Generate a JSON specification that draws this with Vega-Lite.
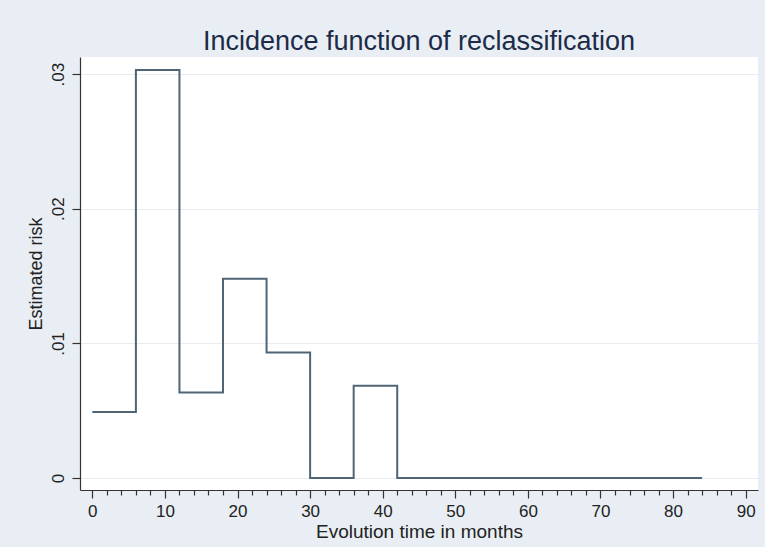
{
  "$schema": "https://vega.github.io/schema/vega-lite/v6.json",
  "width": 678,
  "height": 433,
  "autosize": {"type": "none"},
  "padding": {"left": 80, "top": 57, "right": 7, "bottom": 57},
  "background": "#e8eef3",
  "config": {
    "view": {"fill": "white", "stroke": null},
    "font": "Liberation Sans"
  },
  "title": {
    "text": "Incidence function of reclassification",
    "fontSize": 27,
    "fontWeight": "normal",
    "color": "#1c2b48",
    "font": "Liberation Sans",
    "offset": 1,
    "anchor": "middle"
  },
  "data": {
    "values": [
      {"month": 0, "risk": 0.0049},
      {"month": 6, "risk": 0.0303},
      {"month": 12, "risk": 0.00635},
      {"month": 18, "risk": 0.0148},
      {"month": 24, "risk": 0.00933},
      {"month": 30, "risk": 0},
      {"month": 36, "risk": 0.00685},
      {"month": 42, "risk": 0},
      {"month": 84, "risk": 0}
    ]
  },
  "mark": {"type": "line", "interpolate": "step-after", "color": "#4f6576", "strokeWidth": 2},
  "encoding": {
    "x": {
      "field": "month",
      "type": "quantitative",
      "scale": {"domain": [-1.7, 91.7], "nice": false, "zero": false},
      "axis": {
        "title": "Evolution time in months",
        "titleFontSize": 19,
        "titleFontWeight": "normal",
        "titleColor": "#222222",
        "titlePadding": 3,
        "values": [0,2,4,6,8,10,12,14,16,18,20,22,24,26,28,30,32,34,36,38,40,42,44,46,48,50,52,54,56,58,60,62,64,66,68,70,72,74,76,78,80,82,84,86,88,90],
        "labelExpr": "datum.value % 10 === 0 ? datum.label : ''",
        "labelOverlap": false,
        "labelFlush": false,
        "labelFontSize": 17,
        "labelColor": "#222222",
        "labelPadding": 5,
        "tickSize": {"condition": {"test": "datum.value % 10 === 0", "value": 8}, "value": 5},
        "tickColor": "#333333",
        "tickWidth": 1.2,
        "domainColor": "#333333",
        "domainWidth": 1.2,
        "grid": false
      }
    },
    "y": {
      "field": "risk",
      "type": "quantitative",
      "scale": {"domain": [-0.00089, 0.03127], "nice": false, "zero": false},
      "axis": {
        "title": "Estimated risk",
        "titleFontSize": 18,
        "titleFontWeight": "normal",
        "titleColor": "#222222",
        "titlePadding": 4,
        "values": [0, 0.01, 0.02, 0.03],
        "labelExpr": "datum.value == 0 ? '0' : replace(format(datum.value, '.2f'), '0.', '.')",
        "labelAngle": -90,
        "labelAlign": "center",
        "labelBaseline": "bottom",
        "labelFontSize": 17,
        "labelColor": "#222222",
        "labelPadding": 5,
        "tickSize": 8,
        "tickColor": "#333333",
        "tickWidth": 1.2,
        "domainColor": "#333333",
        "domainWidth": 1.2,
        "grid": true,
        "gridColor": "#e6ecef",
        "gridWidth": 1
      }
    }
  }
}
